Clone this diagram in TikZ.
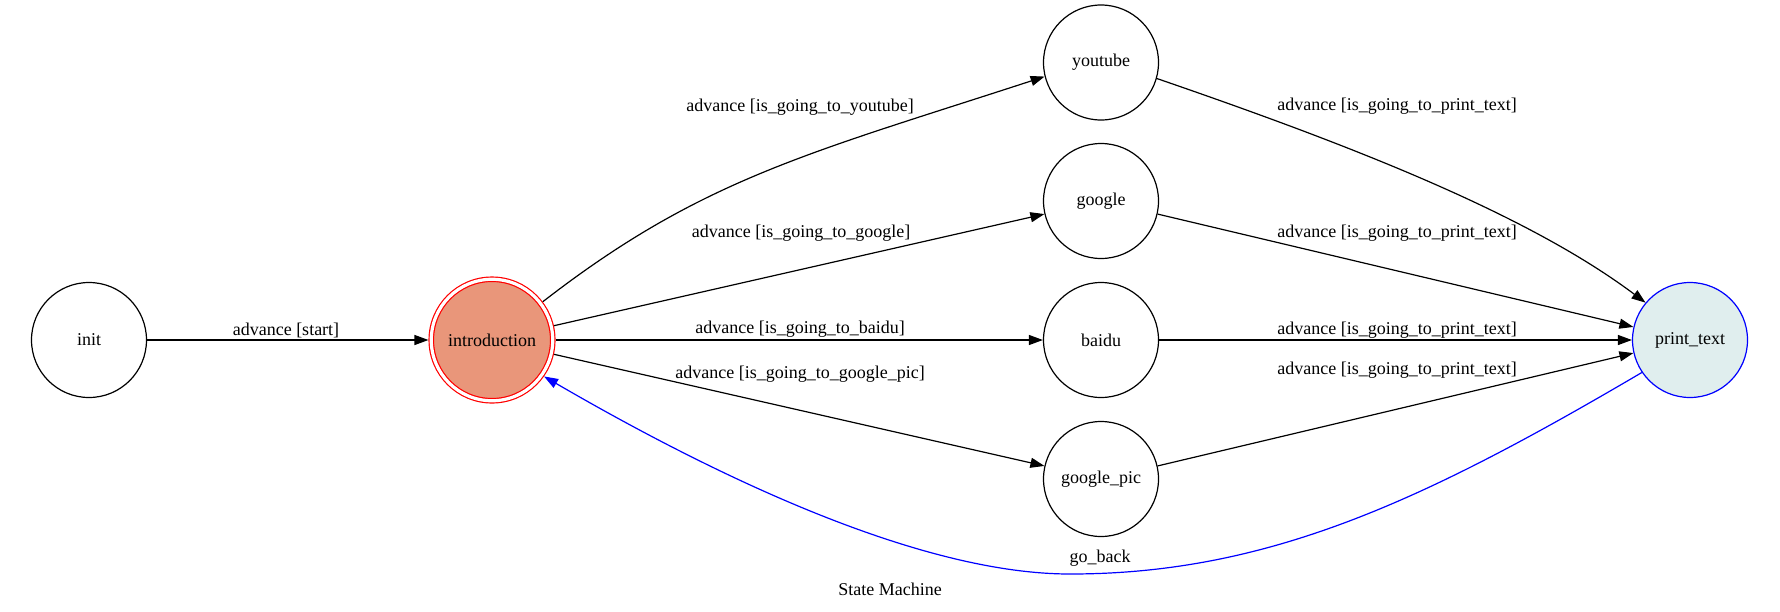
\documentclass[tikz,border=0pt]{standalone}
\usepackage{fontspec}
\setmainfont{Liberation Serif}
\usetikzlibrary{arrows.meta}
\definecolor{salmonfill}{RGB}{233,150,122}
\definecolor{ptfill}{RGB}{224,238,238}
\begin{document}
\begin{tikzpicture}[x=0.5pt,y=-0.5pt, font=\fontsize{9}{11}\selectfont,
  state/.style={circle, draw, line width=0.6pt, minimum size=57.5pt, inner sep=0pt},
  edge/.style={line width=0.6pt, -{Triangle[length=7pt,width=5pt]}},
  lbl/.style={inner sep=0pt}]
\useasboundingbox (0,0) rectangle (1780,611);
% states
\node[state] (init) at (89,340) {init};
\node[circle, draw=red, double=white, double distance=1.6pt, line width=0.6pt,
      fill=salmonfill, minimum size=60.75pt, inner sep=0pt, outer sep=1.4pt] (intro) at (492,340) {introduction};
\node[state] (youtube) at (1101,62.5) {youtube};
\node[state] (google) at (1101,201) {google};
\node[state] (baidu) at (1101,340) {baidu};
\node[state] (gpic) at (1101,479) {google\_pic};
\node[state, draw=blue, fill=ptfill] (pt) at (1690,340) {print\_text};
\coordinate (gbmid) at (1070,574);
% edges
\draw[edge] (init) -- (intro);
\draw[edge] (intro.37) .. controls (701,179) and (807,154) .. (youtube.194.5);
\draw[edge] (intro.13) -- (google.193);
\draw[edge] (intro) -- (baidu);
\draw[edge] (intro.-13) -- (gpic.167);
\draw[edge] (youtube.-16) .. controls (1347,144) and (1526,213) .. (pt.140);
\draw[edge] (google.-13) -- (pt.167);
\draw[edge] (baidu) -- (pt);
\draw[edge] (gpic.13) -- (pt.193);
\draw[edge, blue] (pt.214) .. controls (1426.5,499) and (1270,574) .. (gbmid)
   .. controls (920,574) and (717,477) .. (intro.-35);
% labels
\node[lbl] (l0) at (286,330) {advance [start]};
\node[lbl] (l1) at (800,107) {advance [is\_going\_to\_youtube]};
\node[lbl] (l2) at (801,233) {advance [is\_going\_to\_google]};
\node[lbl] (l3) at (800,329) {advance [is\_going\_to\_baidu]};
\node[lbl] (l4) at (800,374) {advance [is\_going\_to\_google\_pic]};
\node[lbl] (l5) at (1397,106) {advance [is\_going\_to\_print\_text]};
\node[lbl] (l6) at (1397,233) {advance [is\_going\_to\_print\_text]};
\node[lbl] (l7) at (1397,330) {advance [is\_going\_to\_print\_text]};
\node[lbl] (l8) at (1397,370) {advance [is\_going\_to\_print\_text]};
\node[lbl] (l9) at (1100,558) {go\_back};
\node[lbl] (title) at (890,589) {State Machine};
\end{tikzpicture}
\end{document}
